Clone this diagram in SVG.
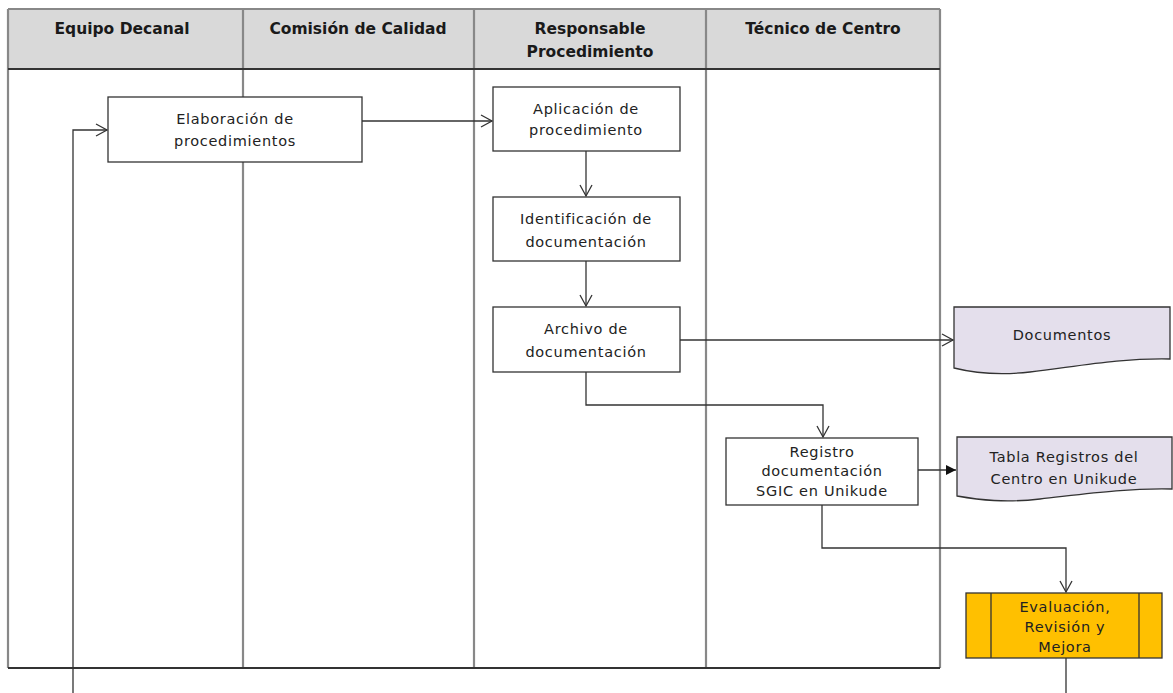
<svg xmlns="http://www.w3.org/2000/svg" width="1173" height="693" viewBox="0 0 1173 693">
<defs>
<marker id="open" markerWidth="14" markerHeight="14" refX="12" refY="7" orient="auto" markerUnits="userSpaceOnUse">
<path d="M1,1 L12,7 L1,13" fill="none" stroke="#333" stroke-width="1.3"/>
</marker>
<marker id="solid" markerWidth="12" markerHeight="12" refX="11" refY="6" orient="auto" markerUnits="userSpaceOnUse">
<path d="M1,1 L11,6 L1,11 Z" fill="#111"/>
</marker>
<style>
.hdr{font-family:"DejaVu Sans",sans-serif;font-weight:bold;font-size:15.5px;fill:#1a1a1a;text-anchor:middle}
.t{font-family:"DejaVu Sans",sans-serif;font-size:14.5px;letter-spacing:0.7px;fill:#222;text-anchor:middle}
.box{fill:#fff;stroke:#333;stroke-width:1.3}
.doc{fill:#e4dfec;stroke:#333;stroke-width:1.3}
.lane{stroke:#888;stroke-width:2.2;fill:none}
.c{fill:none;stroke:#333;stroke-width:1.3}
</style>
</defs>
<rect width="1173" height="693" fill="#fff"/>
<g id="lanes">
<rect x="8" y="9" width="932" height="60" fill="#d9d9d9"/>
<line class="lane" x1="8" y1="9" x2="940" y2="9"/>
<line class="lane" x1="8" y1="9" x2="8" y2="668"/>
<line class="lane" x1="243" y1="9" x2="243" y2="668"/>
<line class="lane" x1="474" y1="9" x2="474" y2="668"/>
<line class="lane" x1="706" y1="9" x2="706" y2="668"/>
<line class="lane" x1="940" y1="9" x2="940" y2="668"/>
<line x1="8" y1="69" x2="940" y2="69" stroke="#333" stroke-width="1.8"/>
<line x1="8" y1="668" x2="940" y2="668" stroke="#333" stroke-width="1.8"/>
<text class="hdr" x="122" y="34">Equipo Decanal</text>
<text class="hdr" x="358" y="34">Comisión de Calidad</text>
<text class="hdr" x="590" y="34">Responsable</text>
<text class="hdr" x="590" y="57">Procedimiento</text>
<text class="hdr" x="823" y="34">Técnico de Centro</text>
</g>
<g id="connectors">
<line class="c" x1="362" y1="121" x2="492" y2="121" marker-end="url(#open)"/>
<line class="c" x1="586" y1="151" x2="586" y2="196" marker-end="url(#open)"/>
<line class="c" x1="586" y1="261" x2="586" y2="306" marker-end="url(#open)"/>
<line class="c" x1="680" y1="340" x2="953" y2="340" marker-end="url(#open)"/>
<polyline class="c" points="586,372 586,405 823,405 823,437" marker-end="url(#open)"/>
<line class="c" x1="918" y1="470" x2="956" y2="470" marker-end="url(#solid)"/>
<polyline class="c" points="822,505 822,548 1066,548 1066,592" marker-end="url(#open)"/>
<polyline class="c" points="1066,658 1066,705 73,705 73,130 107,130" marker-end="url(#open)"/>
</g>
<g id="elaboracion">
<rect class="box" x="108" y="97" width="254" height="65"/>
<text class="t" x="235" y="124">Elaboración de</text>
<text class="t" x="235" y="146">procedimientos</text>
</g>
<g id="aplicacion">
<rect class="box" x="493" y="87" width="187" height="64"/>
<text class="t" x="586" y="114">Aplicación de</text>
<text class="t" x="586" y="135">procedimiento</text>
</g>
<g id="identificacion">
<rect class="box" x="493" y="197" width="187" height="64"/>
<text class="t" x="586" y="224">Identificación de</text>
<text class="t" x="586" y="247">documentación</text>
</g>
<g id="archivo">
<rect class="box" x="493" y="307" width="187" height="65"/>
<text class="t" x="586" y="334">Archivo de</text>
<text class="t" x="586" y="357">documentación</text>
</g>
<g id="documentos">
<path class="doc" d="M954,307 H1170 V359 C1120,358 1080,366 1030,372 C995,376 970,372 954,368 Z"/>
<text class="t" x="1062" y="340">Documentos</text>
</g>
<g id="registro">
<rect class="box" x="726" y="438" width="192" height="67"/>
<text class="t" x="822" y="457">Registro</text>
<text class="t" x="822" y="476">documentación</text>
<text class="t" x="822" y="496">SGIC en Unikude</text>
</g>
<g id="tabla">
<path class="doc" d="M957,437 H1172 V489 C1125,488 1085,494 1040,499 C1005,503 980,500 957,496 Z"/>
<text class="t" x="1064" y="462">Tabla Registros del</text>
<text class="t" x="1064" y="484">Centro en Unikude</text>
</g>
<g id="evaluacion">
<rect x="966" y="593" width="196" height="65" fill="#ffc000" stroke="#333" stroke-width="1.3"/>
<line x1="991" y1="593" x2="991" y2="658" stroke="#333" stroke-width="1.3"/>
<line x1="1139" y1="593" x2="1139" y2="658" stroke="#333" stroke-width="1.3"/>
<text class="t" x="1065" y="612">Evaluación,</text>
<text class="t" x="1065" y="632">Revisión y</text>
<text class="t" x="1065" y="652">Mejora</text>
</g>
</svg>
